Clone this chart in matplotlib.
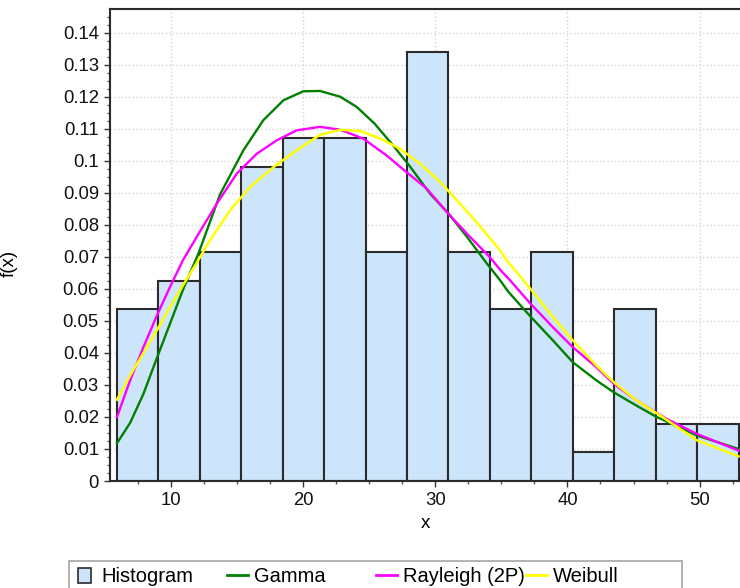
import numpy as np
import matplotlib
matplotlib.use('Agg')
import matplotlib.pyplot as plt
from matplotlib.ticker import MultipleLocator, FuncFormatter
from matplotlib.patches import Rectangle, Patch
from matplotlib.lines import Line2D

# histogram (counts per bin, 112 values)
bin_edges = [5.90, 9.04, 12.17, 15.31, 18.45, 21.58, 24.72, 27.86, 30.99,
             34.13, 37.27, 40.40, 43.54, 46.68, 49.81, 52.95]
bin_counts = [6, 7, 8, 11, 12, 12, 8, 15, 8, 6, 8, 1, 6, 2, 2]
n_total = 112

# fitted curves
gamma_x = [5.9, 6.9, 7.9, 8.9, 9.9, 10.9, 12.06, 13.7, 15.47, 16.98, 18.5, 20.0,
           21.27, 22.8, 24.05, 25.4, 26.8, 28.1, 29.6, 31.0, 32.4, 33.9, 34.9,
           35.5, 37.17, 38.9, 40.4, 42.2, 43.5, 45.2, 46.7, 49.8, 52.95]
gamma_y = [0.0118, 0.0182, 0.0272, 0.0382, 0.049, 0.0598, 0.071, 0.0895, 0.1033,
           0.1127, 0.1189, 0.1217, 0.1218, 0.1200, 0.1168, 0.1116, 0.1048, 0.0981,
           0.0897, 0.0835, 0.0762, 0.0679, 0.0627, 0.0592, 0.0515, 0.0439, 0.0371,
           0.0314, 0.0277, 0.0236, 0.0201, 0.0142, 0.0100]

rayleigh_x = [5.9, 6.9, 7.9, 8.9, 9.9, 10.9, 11.9, 13.45, 14.97, 16.48, 18.0, 19.5,
              21.27, 22.8, 24.55, 26.3, 27.8, 29.35, 30.86, 32.4, 34.1, 34.9,
              35.65, 37.2, 38.9, 40.4, 42.2, 43.5, 45.2, 47.5, 49.8, 52.95]
rayleigh_y = [0.0200, 0.0315, 0.0418, 0.0515, 0.0605, 0.0690, 0.0760, 0.0866,
              0.0960, 0.1022, 0.1064, 0.1095, 0.1106, 0.1097, 0.1069, 0.1017,
              0.0965, 0.0913, 0.0840, 0.0772, 0.0700, 0.0660, 0.0627, 0.0554,
              0.0480, 0.0418, 0.0355, 0.0304, 0.0252, 0.0194, 0.0147, 0.0095]

weibull_x = [5.9, 6.9, 7.9, 8.9, 9.92, 10.92, 11.9, 12.94, 14.46, 15.97, 17.74,
             19.5, 21.27, 22.8, 24.3, 25.8, 27.3, 28.84, 30.36, 31.87, 33.4, 34.9,
             35.4, 37.2, 38.9, 40.4, 42.2, 43.5, 45.2, 47.0, 49.8, 52.95]
weibull_y = [0.0254, 0.0330, 0.0400, 0.0470, 0.0543, 0.0613, 0.0679, 0.0752,
             0.0845, 0.0918, 0.0980, 0.1033, 0.1081, 0.1097, 0.1093, 0.1070,
             0.1038, 0.0991, 0.0934, 0.0866, 0.0795, 0.0720, 0.0689, 0.0600,
             0.0512, 0.0439, 0.0360, 0.0309, 0.0252, 0.0205, 0.0127, 0.0077]

hist_face = '#cce5fb'
hist_edge = '#2b2b2b'

plt.rcParams['font.family'] = ['Liberation Sans', 'DejaVu Sans']

fig = plt.figure(figsize=(7.4, 5.88), dpi=100)
ax = fig.add_axes([110/740, 1 - 481/588, 630/740, 472/588])

heights = np.array(bin_counts) / n_total
widths = np.diff(bin_edges)
ax.bar(bin_edges[:-1], heights, width=widths, align='edge', color=hist_face,
       edgecolor=hist_edge, linewidth=1.5, zorder=2)

ax.plot(gamma_x, gamma_y, color='#008000', lw=1.7, zorder=3)
ax.plot(rayleigh_x, rayleigh_y, color='#ff00ff', lw=1.7, zorder=3)
ax.plot(weibull_x, weibull_y, color='#ffff00', lw=1.8, zorder=3)

ax.set_xlim(5.37, 53.06)
ax.set_ylim(0, 0.1474)
ax.xaxis.set_major_locator(MultipleLocator(10))
ax.xaxis.set_minor_locator(MultipleLocator(2.5))
ax.yaxis.set_major_locator(MultipleLocator(0.01))
ax.yaxis.set_minor_locator(MultipleLocator(0.0025))
ax.yaxis.set_major_formatter(FuncFormatter(lambda v, p: '%g' % round(v, 4)))

ax.grid(True, which='major', linestyle=':', color='#d4d4d4', lw=1)
ax.set_axisbelow(True)

ax.tick_params(which='major', direction='out', length=4, width=1, pad=4,
               labelsize=13.3, colors='#333333', labelcolor='#111111')
ax.tick_params(which='minor', direction='out', length=2.5, width=1, colors='#555555')

for s in ['left', 'bottom', 'top']:
    ax.spines[s].set_color('#2b2b2b')
    ax.spines[s].set_linewidth(1.5)
ax.spines['right'].set_visible(False)

ax.set_xlabel('x', fontsize=13.5, labelpad=4)
ax.set_ylabel('f(x)', fontsize=13.5)
ax.yaxis.set_label_coords(-0.146, 0.46)

# legend: four fixed-width columns inside one box
entries = [
    (Patch(facecolor=hist_face, edgecolor=hist_edge, lw=1.2), 'Histogram', 0.65, 0.5),
    (Line2D([], [], color='#008000', lw=2), 'Gamma', 1.05, 0.3),
    (Line2D([], [], color='#ff00ff', lw=2), 'Rayleigh (2P)', 1.05, 0.3),
    (Line2D([], [], color='#ffff00', lw=2), 'Weibull', 1.05, 0.3),
]
col_x = [78, 227, 376, 526]
for (h, lab, hl, tp), cx in zip(entries, col_x):
    fig.legend(handles=[h], labels=[lab], loc='center left',
               bbox_to_anchor=(cx / 740, 1 - 577 / 588), frameon=False,
               borderpad=0, borderaxespad=0, handlelength=hl, handleheight=0.7,
               handletextpad=tp, fontsize=14.5)
fig.patches.append(Rectangle((69 / 740, -0.01), 613 / 740, 0.01 + 1 - 561 / 588,
                             transform=fig.transFigure, fill=False,
                             edgecolor='#a6a6a6', lw=1.2))

fig.savefig('out.png', dpi=100)
